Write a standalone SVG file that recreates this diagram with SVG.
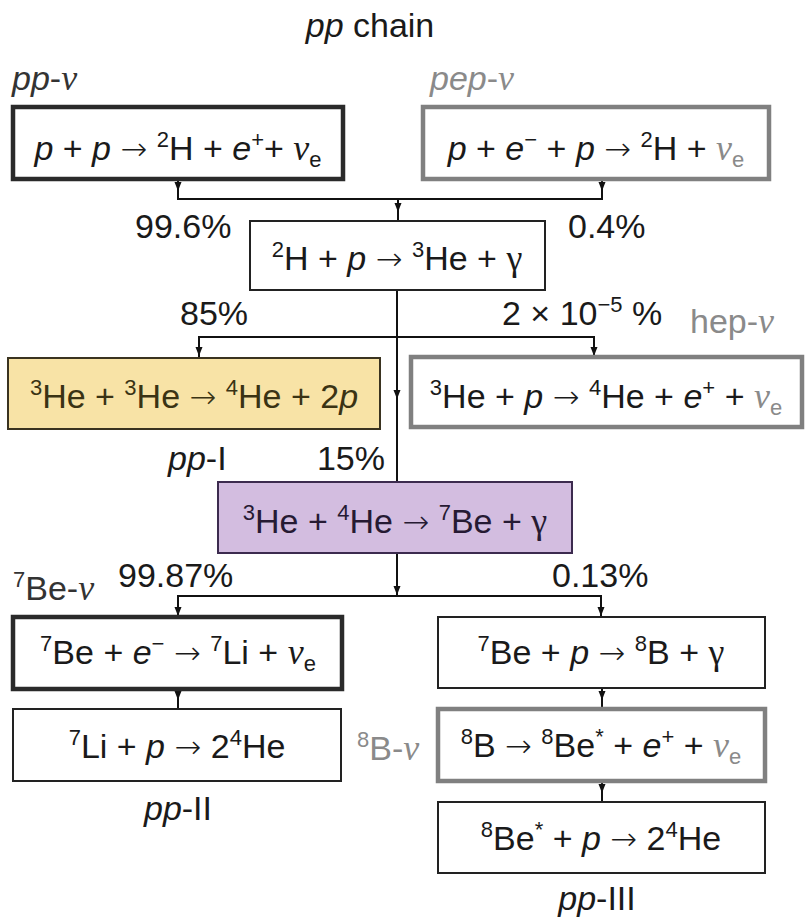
<svg xmlns="http://www.w3.org/2000/svg" xmlns:xlink="http://www.w3.org/1999/xlink" width="805" height="919" viewBox="0 0 805 919">
<style>
text{font-family:"Liberation Sans",Arial,Helvetica,sans-serif;font-size:34px;fill:#1a1a1a}
.c{text-anchor:middle}
.e{text-anchor:end}
.i{font-style:italic}
.sp{font-size:22px}
.ar{font-family:"DejaVu Sans",sans-serif;font-size:32px;font-weight:300}
.nu{font-family:"Liberation Serif","Times New Roman",serif;font-style:italic;font-size:36px}
.gm{font-family:"Liberation Serif","Times New Roman",serif;font-size:36px}
.gray{fill:#8a8a8a}
.box{fill:#fff;stroke:#222;stroke-width:2}
.thick{fill:#fff;stroke:#2a2a2a;stroke-width:4.5}
.grayb{fill:#fff;stroke:#808080;stroke-width:4.5}
.conn{fill:none;stroke:#111;stroke-width:2}
</style>
<defs>
<path id="ah" d="M-3.5,-9 L3.5,-9 L0,0 Z" fill="#111"/>
</defs>

<text id="title" class="c" x="370" y="37"><tspan class="i">pp</tspan> chain</text>

<g id="connectors">
<path class="conn" d="M178 180 V199 H602 V180 M398 199 V221"/>
<path class="conn" d="M397 290 V482"/>
<path class="conn" d="M199 357 V337 H594 V357"/>
<path class="conn" d="M397 553 V596 M178 617 V596 H601 V617"/>
<path class="conn" d="M178 689 V709 M602 688 V709 M602 781 V802"/>
<use xlink:href="#ah" x="178" y="191"/>
<use xlink:href="#ah" x="602" y="191"/>
<use xlink:href="#ah" x="398" y="212"/>
<use xlink:href="#ah" x="397" y="399"/>
<use xlink:href="#ah" x="199" y="356"/>
<use xlink:href="#ah" x="594" y="356"/>
<use xlink:href="#ah" x="397" y="595"/>
<use xlink:href="#ah" x="178" y="616"/>
<use xlink:href="#ah" x="601" y="616"/>
<use xlink:href="#ah" x="178" y="700"/>
<use xlink:href="#ah" x="602" y="700"/>
<use xlink:href="#ah" x="602" y="793"/>
</g>

<g id="pp-nu">
<text x="12" y="90" style="fill:#333"><tspan class="i" style="fill:#333">pp</tspan>-<tspan class="nu" style="fill:#333">ν</tspan></text>
<rect class="thick" x="13" y="107" width="330" height="72"/>
<text class="c" x="178" y="160"><tspan class="i">p</tspan> + <tspan class="i">p</tspan> <tspan class="ar">→</tspan> <tspan class="sp" dy="-13">2</tspan><tspan dy="13">H + </tspan><tspan class="i">e</tspan><tspan class="sp" dy="-13">+</tspan><tspan dy="13">+ </tspan><tspan class="nu">ν</tspan><tspan class="sp" dy="7">e</tspan></text>
</g>

<g id="pep-nu">
<text class="gray" x="430" y="90"><tspan class="i">pep</tspan>-<tspan class="nu gray">ν</tspan></text>
<rect class="grayb" x="423" y="107" width="346" height="72"/>
<text class="c" x="596" y="160"><tspan class="i">p</tspan> + <tspan class="i">e</tspan><tspan class="sp" dy="-13">−</tspan><tspan dy="13"> + </tspan><tspan class="i">p</tspan> <tspan class="ar">→</tspan> <tspan class="sp" dy="-13">2</tspan><tspan dy="13">H + </tspan><tspan class="nu gray">ν</tspan><tspan class="sp gray" dy="7">e</tspan></text>
</g>

<text id="p996" x="135" y="238">99.6%</text>
<text id="p04" x="568" y="238">0.4%</text>

<g id="deuterium">
<rect class="box" x="250" y="221" width="295" height="69"/>
<text class="c" x="397" y="270"><tspan class="sp" dy="-13">2</tspan><tspan dy="13">H + </tspan><tspan class="i">p</tspan> <tspan class="ar">→</tspan> <tspan class="sp" dy="-13">3</tspan><tspan dy="13">He + </tspan><tspan class="gm">γ</tspan></text>
</g>

<text id="p85" x="180" y="325">85%</text>
<text id="p2e5" x="502" y="325">2 × 10<tspan class="sp" dy="-13">−5</tspan><tspan dy="13"> %</tspan></text>

<g id="ppI">
<rect x="8" y="358" width="372" height="71" fill="#f8e3a6" stroke="#3a3320" stroke-width="2"/>
<text class="c" x="194" y="408" style="fill:#3a3314"><tspan class="sp" dy="-13" style="fill:#3a3314">3</tspan><tspan dy="13" style="fill:#3a3314">He + </tspan><tspan class="sp" dy="-13" style="fill:#3a3314">3</tspan><tspan dy="13" style="fill:#3a3314">He </tspan><tspan class="ar" style="fill:#3a3314">→</tspan><tspan style="fill:#3a3314"> </tspan><tspan class="sp" dy="-13" style="fill:#3a3314">4</tspan><tspan dy="13" style="fill:#3a3314">He + 2</tspan><tspan class="i" style="fill:#3a3314">p</tspan></text>
</g>

<g id="hep-nu">
<text class="gray" x="690" y="333">hep-<tspan class="nu gray">ν</tspan></text>
<rect class="grayb" x="411" y="357" width="391" height="70"/>
<text class="c" x="606" y="408"><tspan class="sp" dy="-13">3</tspan><tspan dy="13">He + </tspan><tspan class="i">p</tspan> <tspan class="ar">→</tspan> <tspan class="sp" dy="-13">4</tspan><tspan dy="13">He + </tspan><tspan class="i">e</tspan><tspan class="sp" dy="-13">+</tspan><tspan dy="13"> + </tspan><tspan class="nu gray">ν</tspan><tspan class="sp gray" dy="7">e</tspan></text>
</g>

<text id="lbl-ppI" x="168" y="470"><tspan class="i">pp</tspan>-I</text>
<text id="p15" class="e" x="385" y="470">15%</text>

<g id="be7-formation">
<rect x="218" y="482" width="354" height="71" fill="#d3bde0" stroke="#3c2b4f" stroke-width="2"/>
<text class="c" x="395" y="533" style="fill:#261a33"><tspan class="sp" dy="-13" style="fill:#261a33">3</tspan><tspan dy="13" style="fill:#261a33">He + </tspan><tspan class="sp" dy="-13" style="fill:#261a33">4</tspan><tspan dy="13" style="fill:#261a33">He </tspan><tspan class="ar" style="fill:#261a33">→</tspan><tspan style="fill:#261a33"> </tspan><tspan class="sp" dy="-13" style="fill:#261a33">7</tspan><tspan dy="13" style="fill:#261a33">Be + </tspan><tspan class="gm" style="fill:#261a33">γ</tspan></text>
</g>

<text id="p9987" x="118" y="587">99.87%</text>
<text id="p013" x="552" y="587">0.13%</text>

<g id="be7-nu">
<text x="13" y="600" style="fill:#333"><tspan class="sp" dy="-13" style="fill:#333">7</tspan><tspan dy="13" style="fill:#333">Be-</tspan><tspan class="nu" style="fill:#333">ν</tspan></text>
<rect class="thick" x="13" y="617" width="329" height="72"/>
<text class="c" x="178" y="664"><tspan class="sp" dy="-13">7</tspan><tspan dy="13">Be + </tspan><tspan class="i">e</tspan><tspan class="sp" dy="-13">−</tspan><tspan dy="13"> </tspan><tspan class="ar">→</tspan> <tspan class="sp" dy="-13">7</tspan><tspan dy="13">Li + </tspan><tspan class="nu">ν</tspan><tspan class="sp" dy="7">e</tspan></text>
</g>

<g id="li7">
<rect class="box" x="13" y="709" width="328" height="72"/>
<text class="c" x="177" y="758"><tspan class="sp" dy="-13">7</tspan><tspan dy="13">Li + </tspan><tspan class="i">p</tspan> <tspan class="ar">→</tspan> 2<tspan class="sp" dy="-13">4</tspan><tspan dy="13">He</tspan></text>
</g>
<text id="lbl-ppII" class="c" x="178" y="820"><tspan class="i">pp</tspan>-II</text>

<g id="be7p">
<rect class="box" x="438" y="617" width="327" height="71"/>
<text class="c" x="601" y="664"><tspan class="sp" dy="-13">7</tspan><tspan dy="13">Be + </tspan><tspan class="i">p</tspan> <tspan class="ar">→</tspan> <tspan class="sp" dy="-13">8</tspan><tspan dy="13">B + </tspan><tspan class="gm">γ</tspan></text>
</g>

<g id="b8-nu">
<text class="gray" x="357" y="760"><tspan class="sp gray" dy="-13">8</tspan><tspan dy="13" class="gray">B-</tspan><tspan class="nu gray">ν</tspan></text>
<rect class="grayb" x="438" y="709" width="327" height="72"/>
<text class="c" x="601" y="757"><tspan class="sp" dy="-13">8</tspan><tspan dy="13">B </tspan><tspan class="ar">→</tspan> <tspan class="sp" dy="-13">8</tspan><tspan dy="13">Be</tspan><tspan class="sp" dy="-13">*</tspan><tspan dy="13"> + </tspan><tspan class="i">e</tspan><tspan class="sp" dy="-13">+</tspan><tspan dy="13"> + </tspan><tspan class="nu gray">ν</tspan><tspan class="sp gray" dy="7">e</tspan></text>
</g>

<g id="be8">
<rect class="box" x="438" y="802" width="327" height="71"/>
<text class="c" x="601" y="850"><tspan class="sp" dy="-13">8</tspan><tspan dy="13">Be</tspan><tspan class="sp" dy="-13">*</tspan><tspan dy="13"> + </tspan><tspan class="i">p</tspan> <tspan class="ar">→</tspan> 2<tspan class="sp" dy="-13">4</tspan><tspan dy="13">He</tspan></text>
</g>
<text id="lbl-ppIII" class="c" x="597" y="910"><tspan class="i">pp</tspan>-III</text>
</svg>
